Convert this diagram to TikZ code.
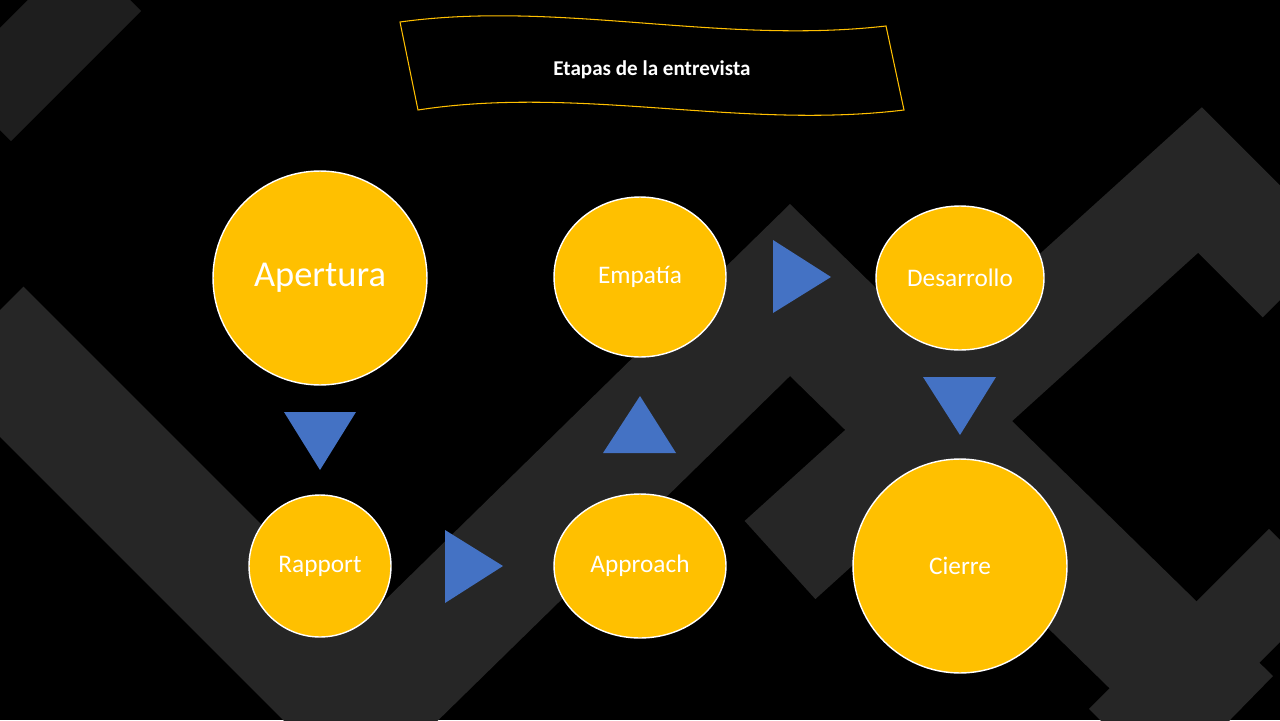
\documentclass[tikz,border=0pt]{standalone}
\usepackage{fontspec}
\setmainfont{Carlito}
\usetikzlibrary{shapes.geometric}
\definecolor{gold}{HTML}{FFC000}
\definecolor{tri}{HTML}{4472C4}
\definecolor{band}{HTML}{262626}
\begin{document}
\begin{tikzpicture}[x=0.02cm,y=-0.02cm,
  stage/.style={ellipse,fill=gold,draw=white,line width=0.8pt,text=white,inner sep=0pt},
  arrowtri/.style={fill=tri}]
\fill[black] (0,0) rectangle (1280,720);
\useasboundingbox (0,0) rectangle (1280,720);
\begin{scope}
\clip (0,0) rectangle (1280,720);
\draw[band,line width=70pt] (-20,330) -- (390,740);
\draw[band,line width=70pt] (330,740) -- (790,290) -- (1230,720);
\draw[band,line width=60pt] (780,560) -- (1200,180) -- (1300,280);
\draw[band!80!black,line width=50pt] (-20,110) -- (110,-20);
\draw[band,line width=50pt] (1120,740) -- (1300,560);
\end{scope}
% title banner
\draw[gold,line width=0.6pt,fill=black] (400,22) .. controls (560,0) and (720,45) .. (886,26)
  -- (904,110) .. controls (740,130) and (580,85) .. (418,110) -- cycle;
\node[text=white,font=\bfseries\large] (title) at (652,70) {Etapas de la entrevista};
% nodes
\node[stage,minimum width=214\pgflinewidth*0+4.28cm,minimum height=4.28cm,font=\huge] (ap) at (320,278) {Apertura};
\node[stage,minimum width=3.44cm,minimum height=3.2cm,font=\Large] (em) at (640,277) {Empatía};
\node[stage,minimum width=3.36cm,minimum height=2.88cm,font=\Large] (de) at (960,278) {Desarrollo};
\node[stage,minimum width=2.84cm,minimum height=2.84cm,font=\Large] (ra) at (320,566) {Rapport};
\node[stage,minimum width=3.44cm,minimum height=2.88cm,font=\Large] (aq) at (640,566) {Approach};
\node[stage,minimum width=4.28cm,minimum height=4.28cm,font=\Large] (ci) at (960,566) {Cierre};
% triangles
\fill[arrowtri] (284,412) -- (356,412) -- (320,470) -- cycle;
\fill[arrowtri] (445,530) -- (445,603) -- (503,566) -- cycle;
\fill[arrowtri] (603,453) -- (676,453) -- (640,396) -- cycle;
\fill[arrowtri] (773,240) -- (773,313) -- (831,277) -- cycle;
\fill[arrowtri] (923,377) -- (996,377) -- (960,435) -- cycle;
\end{tikzpicture}
\end{document}
